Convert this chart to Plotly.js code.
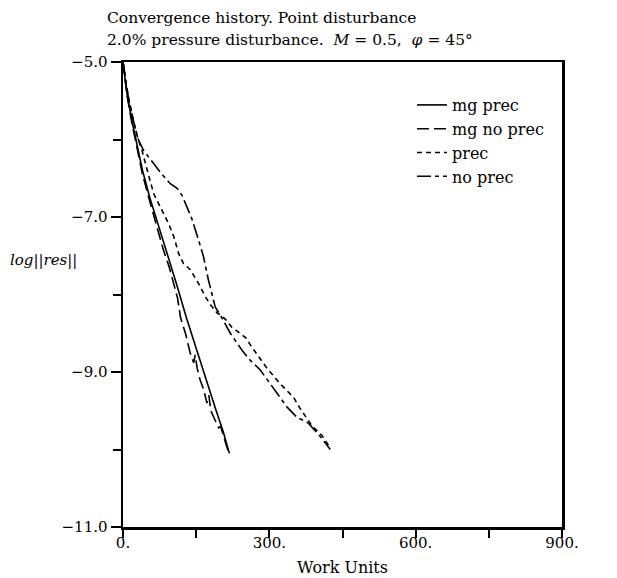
<!DOCTYPE html>
<html>
<head>
<meta charset="utf-8">
<script src="https://cdn.plot.ly/plotly-3.0.1.min.js"></script>
<style>html,body{margin:0;padding:0;background:#fff;}#chart{width:617px;height:578px;}</style>
</head>
<body>
<div id="chart"></div>
<script>
const seriesNames = ["mg prec", "mg no prec", "prec", "no prec"];

const mgPrecX = [0, 8, 18, 28, 40, 55, 70, 90, 110, 130, 150, 170, 190, 205, 218];
const mgPrecY = [-5, -5.4, -5.75, -6.05, -6.4, -6.75, -7.05, -7.45, -7.87, -8.3, -8.7, -9.1, -9.48, -9.76, -10.05];

const mgNoPrecX = [0, 8, 18, 28, 40, 55, 70, 83, 95, 105, 112, 118, 128, 138, 145, 148, 152, 158, 165, 172, 176, 180, 190, 196, 200, 208, 216];
const mgNoPrecY = [-5, -5.42, -5.78, -6.1, -6.45, -6.8, -7.15, -7.43, -7.65, -7.9, -8.05, -8.3, -8.5, -8.76, -8.88, -8.78, -8.95, -9.1, -9.22, -9.4, -9.3, -9.5, -9.65, -9.72, -9.7, -9.85, -10.03];

const precX = [0, 10, 20, 30, 38, 46, 52, 63, 76, 87, 93, 104, 114, 124, 138, 155, 169, 179, 193, 199, 210, 223, 240, 252, 262, 274, 295, 322, 350, 363, 387, 408, 425];
const precY = [-5, -5.42, -5.72, -5.98, -6.12, -6.29, -6.45, -6.7, -6.87, -7.02, -7.08, -7.25, -7.47, -7.6, -7.68, -7.86, -8.03, -8.13, -8.24, -8.26, -8.32, -8.42, -8.5, -8.56, -8.66, -8.76, -8.95, -9.15, -9.33, -9.47, -9.69, -9.82, -9.98];

const noPrecX = [0, 10, 20, 30, 42, 63, 80, 97, 111, 121, 131, 141, 155, 165, 175, 182, 189, 199, 210, 220, 244, 261, 281, 302, 322, 336, 356, 380, 404, 418, 425];
const noPrecY = [-5, -5.42, -5.72, -5.98, -6.14, -6.31, -6.45, -6.57, -6.63, -6.72, -6.87, -7.02, -7.3, -7.51, -7.81, -7.98, -8.16, -8.26, -8.38, -8.5, -8.72, -8.85, -8.97, -9.15, -9.32, -9.45, -9.58, -9.66, -9.83, -9.94, -10.0];

const xTickVals = [0, 300, 600, 900];
const xTickText = ["0.", "300.", "600.", "900."];
const yTickVals = [-5, -7, -9, -11];
const yTickText = ["\u22125.0", "\u22127.0", "\u22129.0", "\u221211.0"];

const titleLine1 = "Convergence history. Point disturbance";
const titleLine2 = "2.0% pressure disturbance.\u00a0 <i>M</i>\u00a0=\u00a00.5,\u00a0 <i>\u03c6</i>\u00a0=\u00a045\u00b0";

const serif = "DejaVu Serif, Liberation Serif, serif";
const lineW = 1.6;

const traces = [
  {x: mgPrecX, y: mgPrecY, name: seriesNames[0], mode: "lines", line: {color: "#000", width: lineW, dash: "solid"}},
  {x: mgNoPrecX, y: mgNoPrecY, name: seriesNames[1], mode: "lines", line: {color: "#000", width: lineW, dash: "12px,5px"}},
  {x: precX, y: precY, name: seriesNames[2], mode: "lines", line: {color: "#000", width: lineW, dash: "5px,4px"}},
  {x: noPrecX, y: noPrecY, name: seriesNames[3], mode: "lines", line: {color: "#000", width: lineW, dash: "14px,4px,4px,4px"}}
];

const layout = {
  width: 617, height: 578,
  margin: {l: 123, r: 55, t: 62, b: 51},
  paper_bgcolor: "#fff", plot_bgcolor: "#fff",
  font: {family: serif, color: "#000", size: 15},
  xaxis: {
    range: [0, 900], tickvals: xTickVals, ticktext: xTickText,
    ticks: "outside", ticklen: 8, tickwidth: 2, tickcolor: "#000",
    ticklabelstandoff: -8,
    minor: {dtick: 150, tick0: 0, ticks: "outside", ticklen: 8, tickwidth: 2, tickcolor: "#000"},
    showline: true, linewidth: 2.5, linecolor: "#000", mirror: true,
    showgrid: false, zeroline: false,
    tickfont: {family: serif, size: 15},
    title: {text: "Work Units", font: {family: serif, size: 16}, standoff: 12}
  },
  yaxis: {
    range: [-11, -5], tickvals: yTickVals, ticktext: yTickText,
    ticks: "outside", ticklen: 10, tickwidth: 2, tickcolor: "#000",
    minor: {dtick: 1, tick0: -5, ticks: "outside", ticklen: 8, tickwidth: 2, tickcolor: "#000"},
    showline: true, linewidth: 2.5, linecolor: "#000", mirror: true,
    showgrid: false, zeroline: false,
    tickfont: {family: serif, size: 15}
  },
  legend: {
    x: (412 - 123) / 439, xanchor: "left", y: (527 - 88) / 465, yanchor: "top",
    bgcolor: "rgba(0,0,0,0)", borderwidth: 0,
    font: {family: serif, size: 16, color: "#000"},
    tracegroupgap: 0
  },
  showlegend: true,
  annotations: [
    {text: titleLine1, xref: "paper", yref: "paper", x: (105 - 123) / 439, y: (527 - 18) / 465,
     xanchor: "left", yanchor: "middle", showarrow: false, font: {family: serif, size: 15.5, color: "#000"}},
    {text: titleLine2, xref: "paper", yref: "paper", x: (105 - 123) / 439, y: (527 - 40) / 465,
     xanchor: "left", yanchor: "middle", showarrow: false, font: {family: serif, size: 15.5, color: "#000"}},
    {text: "<i>log||res||</i>", xref: "paper", yref: "paper", x: (8 - 123) / 439, y: (527 - 260) / 465,
     xanchor: "left", yanchor: "middle", showarrow: false, font: {family: serif, size: 15, color: "#000"}}
  ]
};

Plotly.newPlot("chart", traces, layout, {displayModeBar: false, staticPlot: true});
</script>
</body>
</html>
